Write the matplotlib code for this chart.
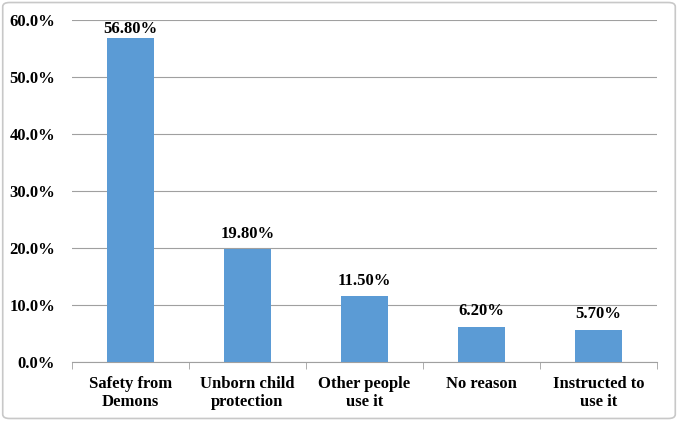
import matplotlib
matplotlib.use("Agg")
import matplotlib.pyplot as plt
from matplotlib.patches import FancyBboxPatch
from matplotlib.ticker import FuncFormatter, MultipleLocator, FixedLocator
import numpy as np

categories = ["Safety from\nDemons", "Unborn child\nprotection", "Other people\nuse it", "No reason", "Instructed to\nuse it"]
values = [56.8, 19.8, 11.5, 6.2, 5.7]
labels = ["56.80%", "19.80%", "11.50%", "6.20%", "5.70%"]

plt.rcParams['font.family'] = ['Liberation Serif', 'DejaVu Serif']
plt.rcParams['font.weight'] = 'bold'

fig = plt.figure(figsize=(6.78, 4.21), dpi=100)
ax = fig.add_axes([0.106, 0.140, 0.863, 0.8125])

x = np.arange(len(categories))
bars = ax.bar(x, values, width=0.4, color="#5B9BD5", zorder=3)
for xi, v, lab in zip(x, values, labels):
    ax.text(xi, min(v + 1.3, 57.0), lab, ha="center", va="bottom", fontsize=12, fontweight="bold")

ax.set_xlim(-0.5, len(categories) - 0.5)
ax.set_ylim(0, 60)
ax.yaxis.set_major_locator(MultipleLocator(10))
ax.yaxis.set_major_formatter(FuncFormatter(lambda v, p: f"{v:.1f}%"))
ax.grid(axis="y", color="#A0A0A0", linewidth=0.8, zorder=0)
for s in ["top", "right", "left"]:
    ax.spines[s].set_visible(False)
ax.spines["bottom"].set_color("#A0A0A0")
ax.tick_params(axis="y", length=0, labelsize=12, pad=12)
ax.set_xticks(x)
ax.set_xticklabels(categories, fontsize=12, fontweight="bold")
ax.tick_params(axis="x", length=0, pad=10)
ax.xaxis.set_minor_locator(FixedLocator(np.arange(-0.5, len(categories), 1.0)))
ax.tick_params(axis="x", which="minor", length=5, color="#A0A0A0", direction="out")
for lab in ax.get_yticklabels():
    lab.set_fontweight("bold")

border = FancyBboxPatch((0.004, 0.006), 0.992, 0.988, boxstyle="round,pad=0,rounding_size=0.01",
                        transform=fig.transFigure, fill=False, edgecolor="#C8C8C8", linewidth=1.2)
fig.patches.append(border)

fig.savefig("out.png", dpi=100)
